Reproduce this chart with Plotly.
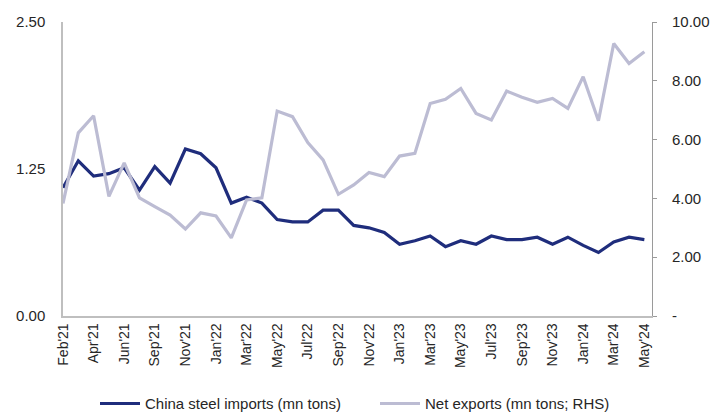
import plotly.graph_objects as go

# Monthly observations (one month absent between Jun'21 and Sep'21)
months = [
    "Feb'21", "Mar'21", "Apr'21", "May'21", "Jun'21", "Jul'21", "Sep'21", "Oct'21",
    "Nov'21", "Dec'21", "Jan'22", "Feb'22", "Mar'22", "Apr'22", "May'22", "Jun'22",
    "Jul'22", "Aug'22", "Sep'22", "Oct'22", "Nov'22", "Dec'22", "Jan'23", "Feb'23",
    "Mar'23", "Apr'23", "May'23", "Jun'23", "Jul'23", "Aug'23", "Sep'23", "Oct'23",
    "Nov'23", "Dec'23", "Jan'24", "Feb'24", "Mar'24", "Apr'24", "May'24",
]

# China steel imports, mn tons (left axis)
steel_imports = [
    1.09, 1.32, 1.19, 1.21, 1.26, 1.07, 1.27, 1.13,
    1.42, 1.38, 1.26, 0.96, 1.01, 0.96, 0.82, 0.80,
    0.80, 0.90, 0.90, 0.77, 0.75, 0.71, 0.61, 0.64,
    0.68, 0.59, 0.64, 0.61, 0.68, 0.65, 0.65, 0.67,
    0.61, 0.67, 0.60, 0.54, 0.63, 0.67, 0.65,
]

# Net exports, mn tons (right axis)
net_exports = [
    3.83, 6.23, 6.81, 4.07, 5.21, 4.02, 3.72, 3.43,
    2.96, 3.51, 3.40, 2.66, 3.95, 4.02, 6.97, 6.78,
    5.90, 5.31, 4.14, 4.46, 4.88, 4.74, 5.44, 5.53,
    7.23, 7.37, 7.74, 6.89, 6.67, 7.65, 7.44, 7.27,
    7.40, 7.06, 8.14, 6.64, 9.27, 8.59, 8.99,
]

tick_months = [
    "Feb'21", "Apr'21", "Jun'21", "Sep'21", "Nov'21", "Jan'22", "Mar'22", "May'22",
    "Jul'22", "Sep'22", "Nov'22", "Jan'23", "Mar'23", "May'23", "Jul'23", "Sep'23",
    "Nov'23", "Jan'24", "Mar'24", "May'24",
]

left_ticks = [0, 1.25, 2.5]
left_labels = ["0.00", "1.25", "2.50"]
right_ticks = [0, 2, 4, 6, 8, 10]
right_labels = ["-", "2.00", "4.00", "6.00", "8.00", "10.00"]

NAVY = "#1f2d7c"
LAVENDER = "#bcbcd3"
AXIS = "#bfbfbf"
TEXT = "#262626"

fig = go.Figure()
fig.add_trace(go.Scatter(
    x=months, y=steel_imports, mode="lines",
    name="China steel imports (mn tons)",
    line=dict(color=NAVY, width=3.2),
))
fig.add_trace(go.Scatter(
    x=months, y=net_exports, mode="lines",
    name="Net exports (mn tons; RHS)",
    line=dict(color=LAVENDER, width=3.2),
    yaxis="y2",
))

fig.update_layout(
    width=724, height=412,
    margin=dict(l=63, r=72, t=22, b=96, autoexpand=False),
    paper_bgcolor="white", plot_bgcolor="white",
    font=dict(family="Liberation Sans, Arial, sans-serif", size=15, color=TEXT),
    showlegend=True,
    legend=dict(
        orientation="h", x=95 / 724, xref="container", xanchor="left",
        y=0.02, yref="container", yanchor="middle",
        font=dict(size=15, color=TEXT), itemwidth=40, tracegroupgap=0,
        entrywidth=225, entrywidthmode="pixels",
    ),
    xaxis=dict(
        type="category", categoryorder="array", categoryarray=months,
        range=[0, 38.5], automargin=False,
        tickmode="array", tickvals=tick_months, ticktext=tick_months,
        tickangle=-90, tickfont=dict(size=14),
        showline=True, linecolor=AXIS, linewidth=1.5,
        showgrid=False, zeroline=False, ticks="",
    ),
    yaxis=dict(
        range=[0, 2.5], tickvals=left_ticks, ticktext=left_labels,
        showline=True, linecolor=AXIS, linewidth=1.5, automargin=False,
        showgrid=False, zeroline=False, ticks="", ticklabelstandoff=13,
        tickfont=dict(size=15),
    ),
    yaxis2=dict(
        range=[0, 10], tickvals=right_ticks, ticktext=right_labels,
        overlaying="y", side="right", automargin=False,
        showline=True, linecolor="#9a9a9a", linewidth=1,
        showgrid=False, zeroline=False,
        ticks="outside", ticklen=4, tickcolor="#9a9a9a",
        ticklabelstandoff=12, tickfont=dict(size=15),
    ),
)

fig.write_html("out.html")
